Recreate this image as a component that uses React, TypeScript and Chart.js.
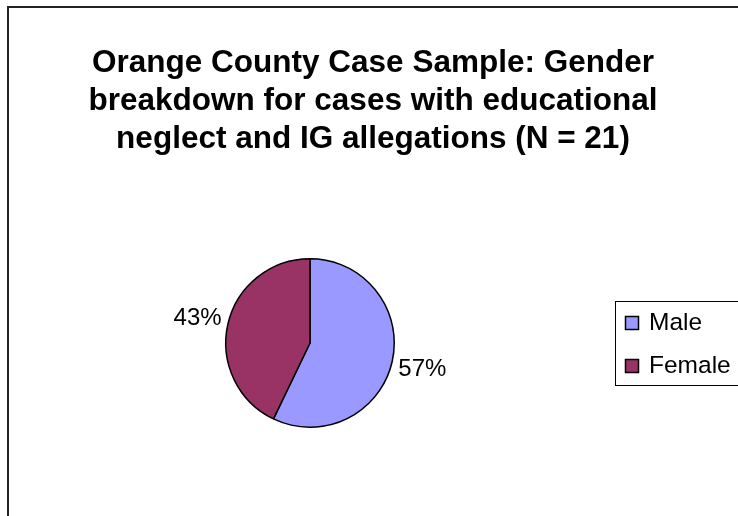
import React, { useEffect, useRef } from "react";
import { Chart, registerables } from "chart.js";

Chart.register(...registerables);

const titleLines = [
  "Orange County Case Sample: Gender",
  "breakdown for cases with educational",
  "neglect and IG allegations (N = 21)",
];
const categories = ["Male", "Female"];
const counts = [12, 9];
const colors = ["#9999FF", "#993366"];

const FONT = "'Liberation Sans', Arial, sans-serif";

const decorPlugin = {
  id: "decor",
  beforeDraw(chart: any) {
    const ctx = chart.ctx;
    ctx.save();
    ctx.fillStyle = "#ffffff";
    ctx.fillRect(0, 0, chart.width, chart.height);
    // frame
    ctx.strokeStyle = "#222222";
    ctx.lineWidth = 2;
    ctx.beginPath();
    ctx.moveTo(8, chart.height + 5);
    ctx.lineTo(8, 7);
    ctx.lineTo(chart.width + 5, 7);
    ctx.stroke();
    // title
    ctx.fillStyle = "#000000";
    ctx.font = `bold 31.5px ${FONT}`;
    ctx.textAlign = "center";
    ctx.textBaseline = "middle";
    titleLines.forEach((t, i) => ctx.fillText(t, 373, 63 + i * 38), 0);
    ctx.restore();
  },
  afterDraw(chart: any) {
    const ctx = chart.ctx;
    const meta = chart.getDatasetMeta(0);
    const data = chart.data.datasets[0].data as number[];
    const total = data.reduce((a, b) => a + b, 0);
    ctx.save();
    ctx.fillStyle = "#000000";
    ctx.font = `24px ${FONT}`;
    ctx.textAlign = "center";
    ctx.textBaseline = "middle";
    meta.data.forEach((arc: any, i: number) => {
      const p = arc.getProps(["x", "y", "startAngle", "endAngle", "outerRadius"], true);
      const mid = (p.startAngle + p.endAngle) / 2;
      const d = p.outerRadius + 31;
      const lx = p.x + Math.cos(mid) * d;
      const ly = p.y + Math.sin(mid) * d;
      ctx.fillText(Math.round((data[i] / total) * 100) + "%", lx, ly + 1);
    });
    // legend
    ctx.strokeStyle = "#000000";
    ctx.lineWidth = 1;
    ctx.strokeRect(615.5, 301.5, 200, 84);
    const labels = chart.data.labels as string[];
    const bg = chart.data.datasets[0].backgroundColor as string[];
    labels.forEach((lab, i) => {
      const cy = 323 + i * 43;
      ctx.fillStyle = bg[i];
      ctx.fillRect(625.5, cy - 6.5, 13, 13);
      ctx.strokeStyle = "#000000";
      ctx.lineWidth = 1.5;
      ctx.strokeRect(625.5, cy - 6.5, 13, 13);
      ctx.fillStyle = "#000000";
      ctx.font = `24.5px ${FONT}`;
      ctx.textAlign = "left";
      ctx.textBaseline = "middle";
      ctx.fillText(lab, 649, cy);
    });
    ctx.restore();
  },
};

export default function App() {
  const ref = useRef<HTMLCanvasElement | null>(null);
  useEffect(() => {
    if (!ref.current) return;
    const chart = new Chart(ref.current, {
      type: "pie",
      data: {
        labels: categories,
        datasets: [
          {
            data: counts,
            backgroundColor: colors,
            borderColor: "#000000",
            borderWidth: 1.5,
          },
        ],
      },
      options: {
        responsive: false,
        animation: false,
        layout: { padding: { left: 225, right: 343, top: 258, bottom: 88 } },
        plugins: {
          legend: { display: false },
          title: { display: false },
          tooltip: { enabled: false },
        },
      },
      plugins: [decorPlugin],
    });
    return () => chart.destroy();
  }, []);
  return (
    <div style={{ position: "fixed", left: 0, top: 0, width: 738, height: 516 }}>
      <canvas ref={ref} width={738} height={516} style={{ width: 738, height: 516 }} />
    </div>
  );
}
